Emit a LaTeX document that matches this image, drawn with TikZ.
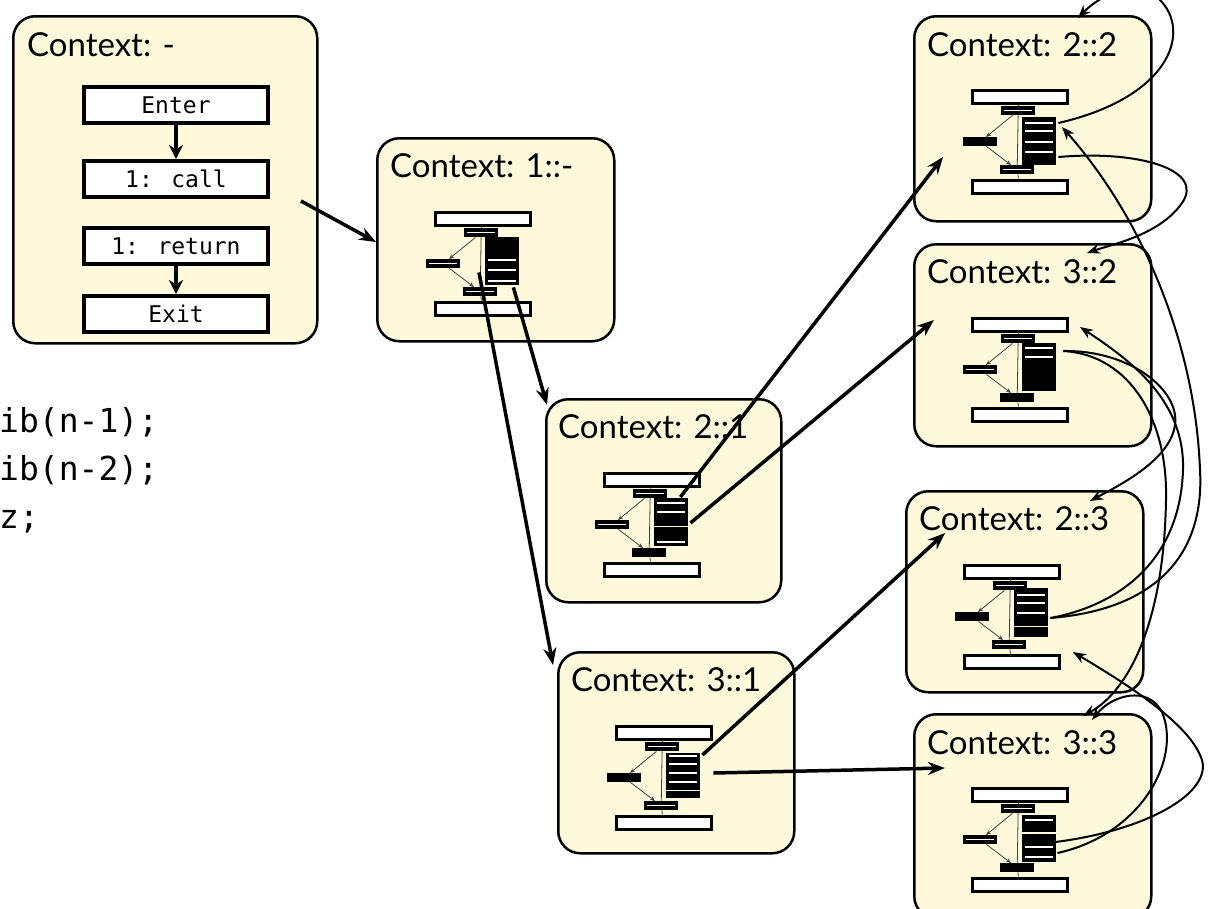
\documentclass[tikz,border=0pt]{standalone}
\usepackage{fontspec}
\newfontfamily\ctxfont{Lato}
\newfontfamily\monofont{DejaVu Sans Mono}
\usetikzlibrary{arrows.meta,calc}
\definecolor{ctxfill}{HTML}{FFF9DC}
\tikzset{
  ctx/.style={draw=black, line width=2.5pt, fill=ctxfill, rounded corners=22pt, anchor=north west, inner sep=0},
  lbl/.style={font=\ctxfont\fontsize{33}{40}\selectfont, anchor=base west, inner sep=0},
  bigbox/.style={draw=black, line width=4pt, fill=white, minimum width=184pt, minimum height=36pt, anchor=north west, inner sep=0, font=\monofont\fontsize{23}{28}\selectfont},
  codetxt/.style={font=\monofont\fontsize{33}{40}\selectfont, anchor=base west, inner sep=0},
  minibig/.style={draw=black, line width=3pt, fill=white, minimum width=95pt, minimum height=13pt, anchor=north west, inner sep=0},
  minisml/.style={fill=black, minimum width=34pt, minimum height=9pt, anchor=north west, inner sep=0},
  wl/.style={path picture={\draw[white,line width=1.2pt] ([xshift=3pt]path picture bounding box.west) -- ([xshift=-3pt]path picture bounding box.east);}},
  bk/.style={},
  bigarr/.style={line width=3.5pt, -{Stealth[length=17pt,width=13pt]}},
  boxarr/.style={line width=4pt, -{Stealth[length=14pt,width=14pt]}},
  thinarr/.style={line width=2pt, -{Stealth[length=13pt,width=10pt]}},
  minarr/.style={line width=0.8pt, draw=black!75, -{Stealth[length=5pt,width=4pt]}},
  minln/.style={line width=0.8pt, draw=black!75},
}
\newcommand\stb[2]{\fill[black] (109,#1) rectangle (143,#2);}
\newcommand\stl[1]{\draw[white,line width=1.3pt] (112,#1) -- (140,#1);}
\newcommand\minidiag[4]{%
\begin{scope}[shift={(#1.north west)}]
  \node[minibig] (#1en) at (57.5,73.5) {};
  \node[minibig] (#1ex) at (57.5,163.5) {};
  \node[inner sep=0,minimum width=34pt,minimum height=48pt,anchor=north west] (#1st) at (109,100) {};
  \node[minisml,wl] (#1call) at (88,91) {};
  \node[minisml,#2] (#1side) at (50,122) {};
  \node[minisml,#3] (#1ret) at (87,150) {};
  \draw[minln] (#1en) -- (#1call);
  \draw[minln] (#1ret) -- (#1ex);
  \draw[minln] (#1call) -- (#1ret);
  #4
  \draw[minarr] (#1call) -- (#1side);
  \draw[minarr] (#1side) -- (#1ret);
\end{scope}}
\begin{document}
\begin{tikzpicture}[x=1pt,y=-1pt]
\useasboundingbox (0,0) rectangle (1212,908);

% code fragment
\node[codetxt] (code1) at (-1,432) {ib(n-1);};
\node[codetxt] (code2) at (-1,480) {ib(n-2);};
\node[codetxt] (code3) at (-1,528) {z;};

% context boxes
\node[ctx, minimum width=304pt, minimum height=327pt] (A) at (12,15) {};
\node[ctx, minimum width=237pt, minimum height=203pt] (B) at (376,137) {};
\node[ctx, minimum width=235pt, minimum height=203pt] (C) at (545,398) {};
\node[ctx, minimum width=236pt, minimum height=201pt] (D) at (557,651) {};
\node[ctx, minimum width=237pt, minimum height=205pt] (E) at (913,15) {};
\node[ctx, minimum width=237pt, minimum height=202pt] (F) at (913,243) {};
\node[ctx, minimum width=237pt, minimum height=201pt] (G) at (905,490) {};
\node[ctx, minimum width=237pt, minimum height=204pt] (H) at (913,713) {};

\node[lbl] (Alab) at (27,56) {Context: -};
\node[lbl] (Blab) at (390,177) {Context: 1::-};
\node[lbl] (Clab) at (558,438) {Context: 2::1};
\node[lbl] (Dlab) at (571,691) {Context: 3::1};
\node[lbl] (Elab) at (927,56) {Context: 2::2};
\node[lbl] (Flab) at (927,283) {Context: 3::2};
\node[lbl] (Glab) at (919,530) {Context: 2::3};
\node[lbl] (Hlab) at (927,754) {Context: 3::3};

% box A flowchart
\node[bigbox] (Aen) at (82,85) {Enter};
\node[bigbox] (Acall) at (82,159) {1: call};
\node[bigbox] (Aret) at (82,226) {1: return};
\node[bigbox] (Aex) at (82,294) {Exit};
\draw[boxarr] (Aen) -- (Acall);
\draw[boxarr] (Aret) -- (Aex);

% mini diagrams
\minidiag{B}{wl}{wl}{\stb{100}{148}\stl{123}\stl{133}\stl{144}}
\minidiag{C}{wl}{bk}{\stb{100}{128}\stb{129}{148}\stl{105}\stl{114}\stl{144}}
\minidiag{D}{bk}{wl}{\stb{102}{139}\stb{140}{147}\stl{105}\stl{113}\stl{122}\stl{131}}
\minidiag{E}{bk}{wl}{\stb{102}{150}\stl{108}\stl{116}\stl{127}\stl{137}}
\minidiag{F}{wl}{bk}{\stb{100}{148}\stl{105}\stl{114}}
\minidiag{G}{bk}{wl}{\stb{98}{136}\stb{137}{147}\stl{105}\stl{113}\stl{123}}
\minidiag{H}{wl}{bk}{\stb{102}{119}\stb{121}{149}\stl{107}\stl{134}\stl{144}}

% thick call arrows
\draw[bigarr] ($(Acall.east)+(31,22)$) -- ($(B.north west)+(0,105)$);
\draw[bigarr] ($(Bst.south west)+(-6,-13)$) -- ($(D.north west)+(-4,14)$);
\draw[bigarr] ($(Bst.south east)+(-6,2)$) -- ($(C.north west)+(2,7)$);
\draw[bigarr] ($(Cst.north east)+(-8,-1)$) -- ($(E.north west)+(30,142)$);
\draw[bigarr] ($(Cst.north east)+(2,25)$) -- ($(F.north west)+(21,77)$);
\draw[bigarr] ($(Dst.north east)+(2,4)$) -- ($(G.north west)+(40,43)$);
\draw[bigarr] ($(Dst.north east)+(13,22)$) -- ($(H.north west)+(32,55)$);

% thin curved arrows
\draw[thinarr] ($(Est.north east)+(2,8)$) .. controls (1180,95) and (1195,20) .. (1150,-8)
   .. controls (1135,-20) and (1100,-5) .. ($(E.north west)+(165,3)$);
\draw[thinarr] ($(Est.north east)+(2,42)$) .. controls (1140,150) and (1205,170) .. (1182,203)
   .. controls (1160,235) and (1110,245) .. ($(F.north west)+(174,10)$);
\draw[thinarr] ($(Fst.north east)+(7,8)$) .. controls (1130,350) and (1180,390) .. (1175,425)
   .. controls (1170,460) and (1120,485) .. ($(G.north west)+(185,11)$);
\draw[thinarr] ($(Fst.north east)+(7,8)$) .. controls (1130,355) and (1168,420) .. (1166,500)
   .. controls (1164,620) and (1130,690) .. ($(H.north west)+(170,3)$);
\draw[thinarr] ($(Gst.north east)+(2,28)$) .. controls (1150,610) and (1205,560) .. (1200,470)
   .. controls (1195,340) and (1140,215) .. ($(E.north west)+(149,112)$);
\draw[thinarr] ($(Gst.north east)+(2,28)$) .. controls (1120,605) and (1180,560) .. (1183,470)
   .. controls (1185,400) and (1130,360) .. ($(F.north west)+(167,84)$);
\draw[thinarr] ($(Hst.north east)+(-1,29)$) .. controls (1150,830) and (1218,790) .. (1200,755)
   .. controls (1185,720) and (1120,680) .. ($(G.north west)+(168,162)$);
\draw[thinarr] ($(Hst.north east)+(1,40)$) .. controls (1140,835) and (1182,760) .. (1162,712)
   .. controls (1148,685) and (1112,695) .. ($(H.north west)+(179,7)$);
\end{tikzpicture}
\end{document}
